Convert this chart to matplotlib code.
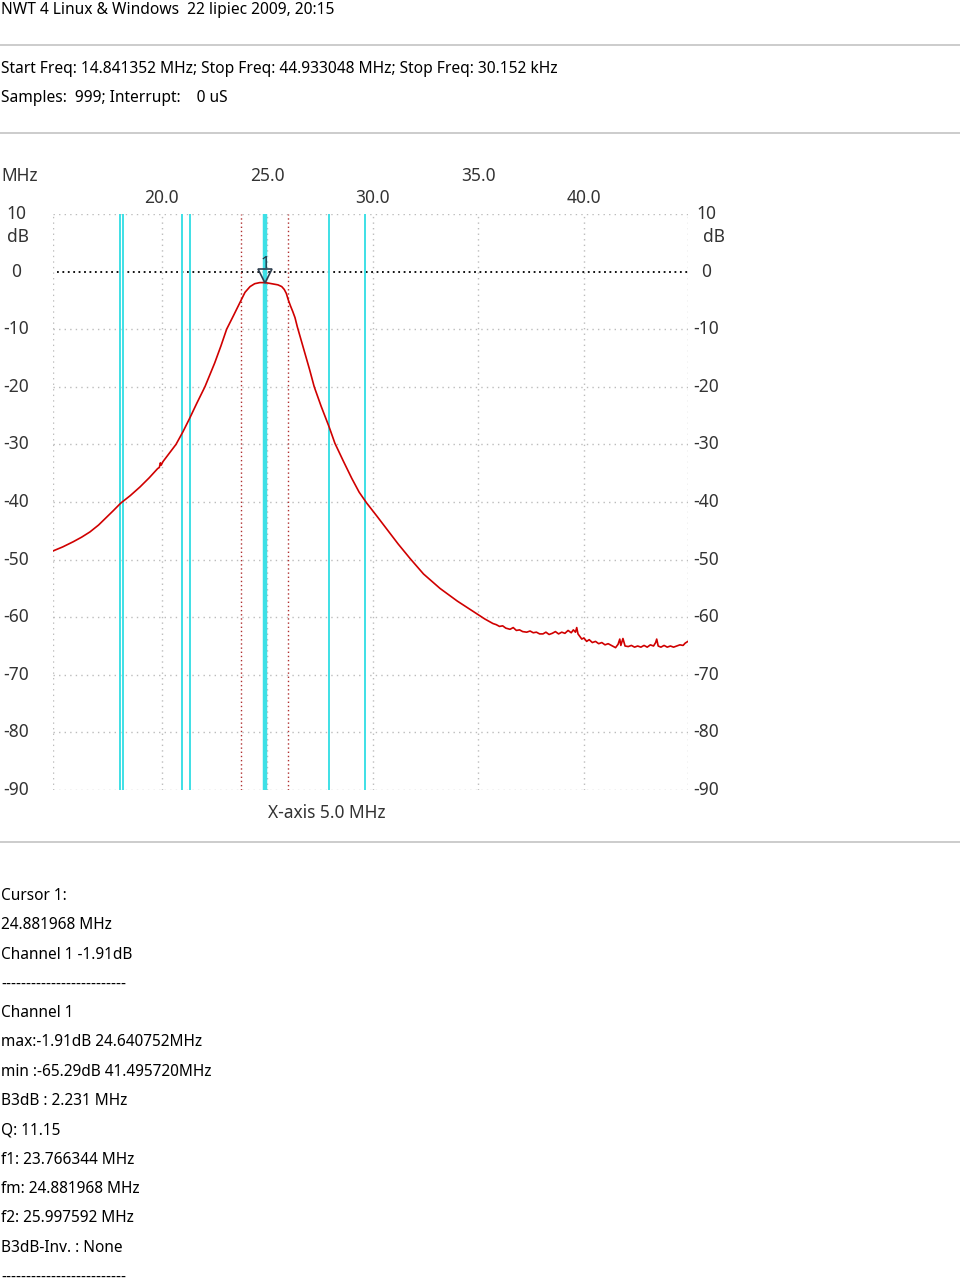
##
#  NWT 4 sweep - filter response around 25 MHz
##
from matplotlib import pyplot as plt
from matplotlib import transforms
from matplotlib.lines import Line2D

plt.rcParams['font.family'] = ['Noto Sans', 'DejaVu Sans']

start_freq = 14.841352
stop_freq = 44.933048
cursor_freq = 24.881968
cursor_db = -1.91
f1 = 23.766344
f2 = 25.997592

freq_ticks = [20.0, 25.0, 30.0, 35.0, 40.0]
db_ticks = [10, 0, -10, -20, -30, -40, -50, -60, -70, -80, -90]

# cyan marker lines (MHz)
cyan_lines = [18.00, 18.14, 20.94, 21.33, 27.94, 29.63]

freq = [14.84, 15.30, 15.80, 16.20, 16.59, 17.00, 17.39, 17.70, 18.05, 18.50,
        18.96, 19.40, 19.80, 19.88, 19.93, 19.97, 20.05, 20.30, 20.67, 21.00,
        21.30, 21.65, 22.04, 22.50, 22.80, 23.07, 23.40, 23.60, 23.75, 23.94,
        24.18, 24.40, 24.64, 24.88, 25.05, 25.27, 25.50, 25.68, 25.80, 25.90,
        25.99, 26.10, 26.20, 26.31, 26.42, 26.60, 26.80, 27.00, 27.22, 27.55,
        27.93, 28.20, 28.60, 29.00, 29.35, 29.71, 30.20, 30.70, 31.20, 31.76,
        32.40, 33.18, 34.00, 34.92, 35.30,
        35.69, 35.85, 36.00, 36.15, 36.30, 36.50, 36.65, 36.80, 36.95, 37.10,
        37.29, 37.45, 37.60, 37.75, 37.90, 38.06, 38.20, 38.35, 38.50, 38.65,
        38.80, 38.95, 39.10, 39.25, 39.40, 39.50, 39.60, 39.66, 39.72, 39.80,
        39.90, 40.00, 40.13, 40.25, 40.40, 40.55, 40.70, 40.85, 41.00, 41.15,
        41.30, 41.50, 41.62, 41.70, 41.75, 41.85, 41.95, 42.10, 42.25, 42.40,
        42.55, 42.70, 42.85, 43.00, 43.15, 43.30, 43.40, 43.45, 43.52, 43.65,
        43.80, 43.95, 44.10, 44.25, 44.40, 44.55, 44.70, 44.80, 44.93]
level = [-48.5, -47.8, -46.9, -46.1, -45.2, -44.0, -42.6, -41.5, -40.2, -38.9,
         -37.4, -35.8, -34.2, -34.0, -33.2, -33.6, -33.0, -31.8, -30.0, -27.8,
         -25.6, -22.9, -20.0, -15.9, -12.9, -10.0, -7.6, -6.1, -5.0, -3.6,
         -2.6, -2.1, -1.91, -1.91, -2.0, -2.15, -2.3, -2.6, -3.1, -3.8,
         -4.9, -6.0, -6.9, -8.0, -9.6, -11.9, -14.4, -17.0, -20.0, -23.4,
         -27.0, -29.8, -32.9, -35.9, -38.3, -40.2, -42.5, -44.9, -47.3, -49.8,
         -52.5, -55.0, -57.2, -59.4, -60.3,
         -61.1, -61.3, -61.6, -61.5, -61.9, -62.1, -61.8, -62.3, -62.2, -62.5,
         -62.6, -62.4, -62.7, -62.6, -62.9, -62.9, -62.6, -63.0, -62.8, -62.5,
         -62.9, -62.6, -62.8, -62.3, -62.7, -62.2, -62.6, -61.8, -62.9, -63.3,
         -63.8, -63.6, -64.2, -63.9, -64.4, -64.2, -64.6, -64.4, -64.8, -64.6,
         -64.9, -65.29, -64.7, -63.8, -64.9, -63.7, -65.0, -65.1, -64.9, -65.2,
         -65.0, -65.2, -64.9, -65.2, -64.8, -65.0, -64.4, -63.8, -65.0, -65.2,
         -64.9, -65.2, -65.0, -65.2, -65.0, -64.8, -64.9, -64.5, -64.2]

header = 'NWT 4 Linux & Windows  22 lipiec 2009, 20:15'
info = ['Start Freq: 14.841352 MHz; Stop Freq: 44.933048 MHz; Stop Freq: 30.152 kHz',
        'Samples:  999; Interrupt:    0 uS']
report = ['Cursor 1:', '24.881968 MHz', 'Channel 1 -1.91dB', '-' * 25,
          'Channel 1', 'max:-1.91dB 24.640752MHz', 'min :-65.29dB 41.495720MHz',
          'B3dB : 2.231 MHz', 'Q: 11.15', 'f1: 23.766344 MHz',
          'fm: 24.881968 MHz', 'f2: 25.997592 MHz', 'B3dB-Inv. : None', '-' * 25]

W, H = 960, 1281
fig = plt.figure(figsize=(9.6, 12.81), dpi=100)
fig.patch.set_facecolor('white')


def fy(y):
    return 1 - y / H


# text parts
fig.text(1 / W, fy(10), header, fontsize=11.2, va='center', ha='left')
fig.text(1 / W, fy(69), info[0], fontsize=11.2, va='center', ha='left')
fig.text(1 / W, fy(98), info[1], fontsize=11.2, va='center', ha='left')
for y in [45, 133, 842]:
    fig.add_artist(Line2D([0, 1], [fy(y), fy(y)], transform=fig.transFigure,
                          color='#c8c8c8', lw=1.3))
for i, s in enumerate(report):
    fig.text(1 / W, fy(896 + i * 29.3), s, fontsize=11.1, va='center', ha='left')

# plot area
ax = fig.add_axes([53 / W, fy(790), 635 / W, 576 / H])
ax.set_xlim(start_freq, stop_freq)
ax.set_ylim(-90, 10)
ax.axis('off')

grid = dict(color='#bcbcbc', lw=1.0, ls=(0, (1, 3)))
for d in db_ticks:
    if d == 0:
        ax.axhline(d, xmin=4 / 635, color='black', lw=1.3, ls=(0, (1, 2)), zorder=2)
    else:
        ax.axhline(d, **grid, zorder=1)
for f in [start_freq] + freq_ticks + [stop_freq]:
    ax.axvline(f, **grid, zorder=1)

for f in cyan_lines:
    ax.axvline(f, color='#3ee0e6', lw=1.4, zorder=3)
ax.axvline(cursor_freq, color='#3ee0e6', lw=3.2, zorder=3)
for f in [f1, f2]:
    ax.axvline(f, color='#b03030', lw=1.0, ls=(0, (1, 2)), zorder=3)

ax.plot(freq, level, color='#d00000', lw=1.2, zorder=4)

# cursor marker
ax.plot([cursor_freq], [cursor_db + 1.15], marker='v', ms=9.5, mfc='none',
        mec='#2f3f4f', mew=1.2, zorder=5)
ax.text(cursor_freq, cursor_db + 3.3, '1', fontsize=12, color='#223344',
        ha='center', va='center', zorder=5)

# axis labels
lab = dict(fontsize=12.5, color='#333333', va='center', ha='center')
ty = transforms.blended_transform_factory(ax.transAxes, ax.transData)
for d in db_ticks:
    ax.text(-37 / 635, d, str(d), transform=ty, clip_on=False, **lab)
    ax.text(653 / 635, d, str(d), transform=ty, clip_on=False, **lab)
ax.text(-35 / 635, 6.0, 'dB', transform=ty, clip_on=False, **lab)
ax.text(661 / 635, 6.0, 'dB', transform=ty, clip_on=False, **lab)

tx = transforms.blended_transform_factory(ax.transData, fig.transFigure)
for i, f in enumerate(freq_ticks):
    ypix = 198 if i % 2 == 0 else 176
    ax.text(f, fy(ypix), '%.1f' % f, transform=tx, clip_on=False, **lab)
fig.text(20 / W, fy(176), 'MHz', **lab)
fig.text(327 / W, fy(813), 'X-axis 5.0 MHz', **lab)

plt.savefig('out.png', dpi=100)
